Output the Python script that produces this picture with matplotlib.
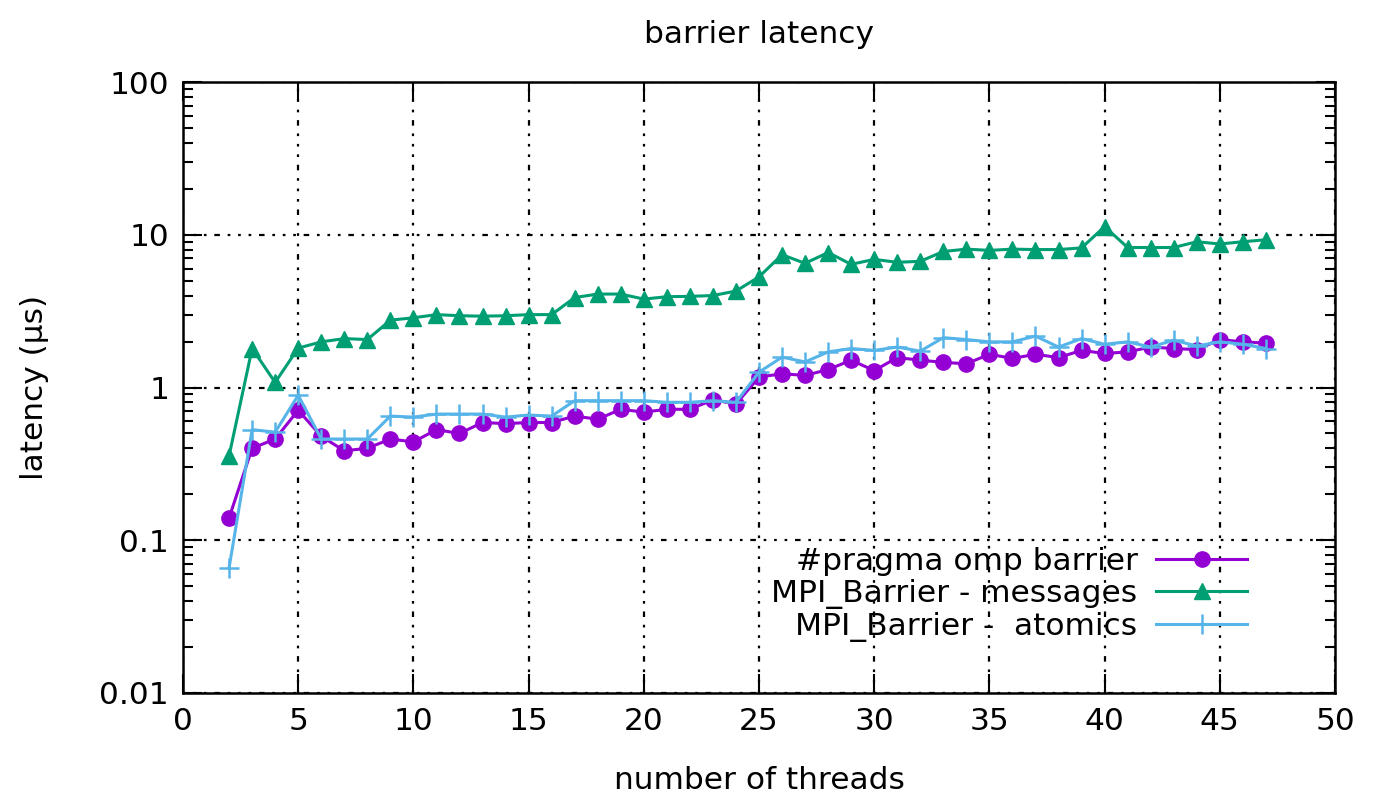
import numpy as np
import matplotlib
matplotlib.use("Agg")
import matplotlib.pyplot as plt
from matplotlib.ticker import LogLocator, NullFormatter, FixedLocator

threads = list(range(2, 48))

omp_barrier = [0.14, 0.40, 0.46, 0.71, 0.48, 0.385, 0.40, 0.46, 0.44, 0.53,
               0.50, 0.59, 0.58, 0.59, 0.59, 0.65, 0.62, 0.72, 0.69, 0.72,
               0.72, 0.83, 0.78, 1.17, 1.23, 1.20, 1.31, 1.51, 1.29, 1.57,
               1.51, 1.46, 1.43, 1.65, 1.55, 1.65, 1.57, 1.75, 1.67, 1.71,
               1.84, 1.80, 1.77, 2.06, 1.99, 1.95]

mpi_messages = [0.357, 1.80, 1.08, 1.81, 1.99, 2.09, 2.06, 2.76, 2.86, 3.0,
                2.95, 2.93, 2.95, 3.0, 3.0, 3.88, 4.09, 4.09, 3.79, 3.93,
                3.95, 4.0, 4.28, 5.3, 7.4, 6.5, 7.65, 6.4, 6.9, 6.6,
                6.7, 7.77, 8.05, 7.9, 8.05, 8.0, 8.0, 8.2, 11.3, 8.25,
                8.25, 8.25, 9.0, 8.7, 9.0, 9.27]

mpi_atomics = [0.066, 0.53, 0.51, 0.89, 0.46, 0.46, 0.46, 0.65, 0.64, 0.67,
               0.67, 0.67, 0.64, 0.66, 0.65, 0.82, 0.82, 0.82, 0.82, 0.80,
               0.80, 0.82, 0.80, 1.26, 1.58, 1.47, 1.71, 1.80, 1.75, 1.84,
               1.73, 2.12, 2.06, 1.99, 1.99, 2.17, 1.84, 2.09, 1.92, 1.99,
               1.84, 2.04, 1.87, 1.99, 1.92, 1.80]

labels = ["#pragma omp barrier", "MPI_Barrier - messages", "MPI_Barrier -  atomics"]

plt.rcParams['font.family'] = ['DejaVu Sans']
fs = 22.5
fig = plt.figure(figsize=(13.84, 8.02), dpi=100)
ax = fig.add_axes([183/1384, 1 - 693/802, 1152/1384, 611/802])

ax.plot(threads, omp_barrier, color='#9400D3', marker='o', markersize=11,
        linewidth=2.2, label=labels[0])
ax.plot(threads, mpi_messages, color='#009E73', marker='^', markersize=11,
        linewidth=2.2, label=labels[1])
ax.plot(threads, mpi_atomics, color='#56B4E9', marker='+', markersize=14,
        markeredgewidth=1.8, linewidth=2.2, label=labels[2])

ax.set_yscale('log')
ax.set_xlim(0, 50)
ax.set_ylim(0.01, 100)
ax.xaxis.set_major_locator(FixedLocator(range(0, 51, 5)))
ax.yaxis.set_major_locator(FixedLocator([0.01, 0.1, 1, 10, 100]))
ax.set_yticklabels(['0.01', '0.1', '1', '10', '100'])
ax.yaxis.set_minor_locator(LogLocator(base=10, subs=np.arange(2, 10)))
ax.yaxis.set_minor_formatter(NullFormatter())

ax.tick_params(which='major', direction='in', length=14, width=1.5,
               top=True, right=True, labelsize=fs, pad=10)
ax.tick_params(which='minor', direction='in', length=7, width=1.5,
               right=True, left=True)
for s in ax.spines.values():
    s.set_linewidth(1.8)

# gnuplot-like dotted grid with the odd dash
ax.grid(True, which='major', color='black',
        linestyle=(0, (1.2, 3.5, 1.2, 3.5, 1.2, 3.5, 2.5, 3.5)), linewidth=1.6)

ax.set_title('barrier latency', fontsize=fs, pad=28)
ax.set_xlabel('number of threads', fontsize=fs, labelpad=22)
ax.set_ylabel('latency (µs)', fontsize=fs, labelpad=36)

ax.legend(loc='upper right', bbox_to_anchor=(0.948, 0.285), frameon=False,
          markerfirst=False, fontsize=fs, handlelength=2.9, labelspacing=0.1,
          handletextpad=0.6)

fig.savefig('out.png', dpi=100)
